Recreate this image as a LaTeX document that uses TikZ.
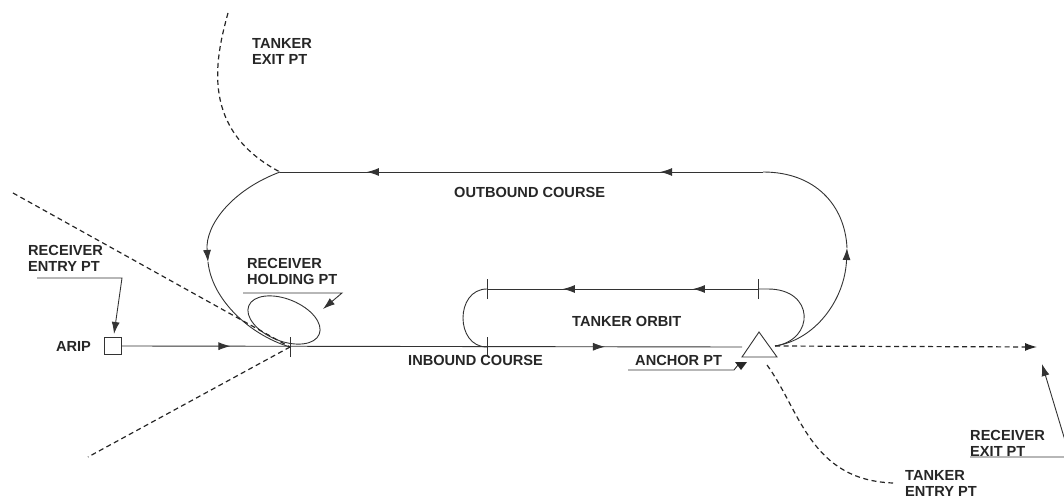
\documentclass[tikz,border=0pt]{standalone}
\usepackage{fontspec}
\setmainfont{Liberation Sans}
\usetikzlibrary{arrows.meta,decorations.markings}
\begin{document}
\begin{tikzpicture}[x=1pt,y=-1pt,
  ln/.style={line width=0.9pt, draw=black!80},
  dsh/.style={line width=1.2pt, draw=black!85, dash pattern=on 5pt off 3.5pt},
  tipend/.style={-{Latex[length=12pt,width=8pt]}},
  lbl/.style={anchor=north west, inner sep=0pt, align=left, font=\bfseries\fontsize{14.6}{16.5}\selectfont, text=black!85},
  twoarr/.style 2 args={postaction={decorate}, decoration={markings,
      mark=at position #1 with {\arrow{Latex[length=12pt,width=8pt]}},
      mark=at position #2 with {\arrow{Latex[length=12pt,width=8pt]}}}}
]
\useasboundingbox (0,0) rectangle (1064,502);

% key points
\coordinate (jl) at (280,172);
\coordinate (jr) at (763,172);
\coordinate (hp) at (290,347);
\coordinate (tri) at (775,346);
\coordinate (ol) at (487,289);
\coordinate (or) at (758,289);
\coordinate (ob) at (487,347);
\coordinate (rt) at (847,248);
\coordinate (lt) at (208,262);

% ARIP square
\node[draw, ln, minimum size=17pt, inner sep=0pt] (arip) at (113,346) {};
\node[lbl, anchor=center] (ariplbl) at (73.5,346.5) {ARIP};

% inbound course
\draw[ln, twoarr={0.175}{0.779}] (arip.east) -- (742,347);

% anchor triangle
\draw[ln] (759,332) -- (742,357) -- (777,357) -- cycle;

% outbound / race track
\draw[ln, twoarr={0.213}{0.82}] (jr) -- (jl);
\draw[ln, tipend] (jl) .. controls (232,190) and (205,225) .. (lt);
\draw[ln] (lt) .. controls (212,300) and (250,335) .. (hp);
\draw[ln, tipend] (tri) .. controls (815,340) and (845,300) .. (rt);
\draw[ln] (rt) .. controls (845,205) and (815,172) .. (jr);

% tanker orbit
\draw[ln, twoarr={0.24}{0.72}] (or) -- (ol);
\draw[ln] (ol) .. controls (455,289) and (455,347) .. (ob);
\draw[ln] (or) -- (768,289) .. controls (815,289) and (815,340) .. (tri);

% ticks
\foreach \p in {ol,or,ob,hp}
  \draw[ln] ([yshift=-10pt]\p) -- ([yshift=10pt]\p);

% receiver holding ellipse
\draw[ln, rotate around={-22:(284,320)}] (284,320) ellipse [x radius=38pt, y radius=21pt];

% dashed lines
\draw[dsh] (13,193) -- (hp);
\draw[dsh] (hp) -- (88,457);
\draw[dsh] (228,13) .. controls (215,60) and (200,130) .. (jl);
\draw[dsh, tipend] (tri) -- (1037,347);
\draw[dsh] (767,365) .. controls (800,410) and (810,480) .. (893,483);

% labels
\node[lbl] (texit) at (252,38) {TANKER\\EXIT PT};
\node[lbl] (rentry) at (28,245) {RECEIVER\\ENTRY PT};
\node[lbl] (rhold) at (247,258) {RECEIVER\\HOLDING PT};
\node[lbl] (outc) at (454,187) {OUTBOUND COURSE};
\node[lbl] (torb) at (572,316) {TANKER ORBIT};
\node[lbl] (inc) at (408,355) {INBOUND COURSE};
\node[lbl] (anch) at (635,355) {ANCHOR PT};
\node[lbl] (tentry) at (905,470) {TANKER\\ENTRY PT};
\node[lbl] (rexit) at (970,430) {RECEIVER\\EXIT PT};

% leader lines
\draw[ln, tipend] (37,278) -- (122,278) -- (114,334);
\draw[ln, tipend] (243,293) -- (342,293) -- (323,309);
\draw[ln] (628,370) -- (734,370) -- (738,365);
\fill[black!85] (735,362) -- (747,362) -- (741,370) -- cycle;
\draw[ln, tipend] (970,457) -- (1070,457) -- (1042,364);
\end{tikzpicture}
\end{document}
